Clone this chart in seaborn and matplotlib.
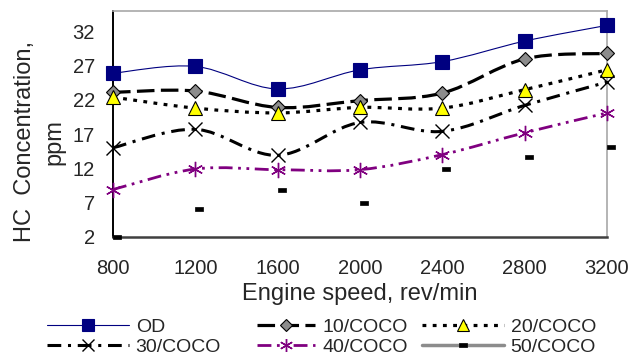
import numpy as np
import pandas as pd
import matplotlib
matplotlib.use("Agg")
import matplotlib.pyplot as plt
from matplotlib.path import Path
from matplotlib.patches import PathPatch
from matplotlib.lines import Line2D
from matplotlib.ticker import MultipleLocator
import matplotlib.transforms as mtransforms
import seaborn as sns

# Engine speed (rev/min) and HC concentration (ppm) per fuel blend
speed = [800, 1200, 1600, 2000, 2400, 2800, 3200]
hc_od = [25.9, 26.9, 23.6, 26.4, 27.6, 30.6, 32.9]
hc_10 = [23.1, 23.3, 20.9, 21.9, 23.0, 28.0, 28.8]
hc_20 = [22.4, 20.8, 20.1, 20.9, 20.8, 23.5, 26.4]
hc_30 = [15.0, 17.7, 13.9, 18.7, 17.4, 21.2, 24.6]
hc_40 = [8.9, 11.9, 11.8, 11.8, 14.0, 17.2, 20.1]
hc_50 = [2.0, 6.1, 8.9, 7.0, 11.9, 13.6, 15.1]

labels = ["OD", "10/COCO", "20/COCO", "30/COCO", "40/COCO", "50/COCO"]
x_ticks = [800, 1200, 1600, 2000, 2400, 2800, 3200]
y_ticks = [2, 7, 12, 17, 22, 27, 32]

sns.set_style("white")
plt.rcParams["font.family"] = ["Liberation Sans", "DejaVu Sans"]

NAVY = "#000080"
PURPLE = "#800080"

# rectangular "dash" marker
rect_marker = Path([(-1, -0.5), (1, -0.5), (1, 0.5), (-1, 0.5), (-1, -0.5)],
                   [Path.MOVETO, Path.LINETO, Path.LINETO, Path.LINETO, Path.CLOSEPOLY])
asterisk = (6, 2, 0)

styles = {
    "OD": dict(values=hc_od, color=NAVY, lw=0.8, dashes=None,
               marker="s", ms=9.5, mfc=NAVY, mec=NAVY, mew=0.8),
    "10/COCO": dict(values=hc_10, color="black", lw=2.3, dashes=(5.5, 2.0),
                    marker="D", ms=7.5, mfc="#8c8c8c", mec="black", mew=0.8),
    "20/COCO": dict(values=hc_20, color="black", lw=2.3, dashes=(1.2, 2.0),
                    marker="^", ms=10, mfc="#ffff00", mec="black", mew=0.8),
    "30/COCO": dict(values=hc_30, color="black", lw=2.2, dashes=(4.5, 2.2, 1.0, 2.2),
                    marker="x", ms=9.5, mfc="black", mec="black", mew=1.0),
    "40/COCO": dict(values=hc_40, color=PURPLE, lw=2.0, dashes=(5.0, 2.0, 1.0, 2.0, 1.0, 2.0),
                    marker=asterisk, ms=11, mfc=PURPLE, mec=PURPLE, mew=1.0),
    "50/COCO": dict(values=hc_50, color="#8c8c8c", lw=2.5, dashes=None,
                    marker=rect_marker, ms=6, mfc="black", mec="black", mew=0.5),
}


def smooth_path(xs, ys):
    """Cubic Bezier path through the points (Catmull-Rom style smoothing)."""
    p = np.column_stack([xs, ys]).astype(float)
    pad = np.vstack([p[0], p, p[-1]])
    verts = [p[0]]
    codes = [Path.MOVETO]
    for i in range(len(p) - 1):
        p0, p1, p2, p3 = pad[i], pad[i + 1], pad[i + 2], pad[i + 3]
        verts += [p1 + (p2 - p0) / 6.0, p2 - (p3 - p1) / 6.0, p2]
        codes += [Path.CURVE4] * 3
    return Path(verts, codes)


fig = plt.figure(figsize=(6.42, 3.6), dpi=100)
ax = fig.add_axes([0.176, 0.3425, 0.7695, 0.627])

handles = {}
for name in labels:
    st = styles[name]
    df = pd.DataFrame({"speed": speed, "hc": st["values"]})
    if name != "50/COCO":
        ls = "-" if st["dashes"] is None else (0, st["dashes"])
        patch = PathPatch(smooth_path(df["speed"], df["hc"]), fill=False,
                          edgecolor=st["color"], lw=st["lw"], linestyle=ls,
                          capstyle="butt", joinstyle="round", zorder=2)
        ax.add_patch(patch)
    n_before = len(ax.lines)
    sns.lineplot(data=df, x="speed", y="hc", ax=ax, linestyle="none",
                 marker=st["marker"], markersize=st["ms"],
                 markerfacecolor=st["mfc"], markeredgecolor=st["mec"],
                 markeredgewidth=st["mew"], color=st["color"], zorder=3)
    line = ax.lines[n_before]
    line.set_clip_on(False)
    if name == "50/COCO":
        line.set_transform(ax.transData + mtransforms.ScaledTranslation(4 / 100, 0, fig.dpi_scale_trans))
    ls = "-" if st["dashes"] is None else (0, st["dashes"])
    handles[name] = Line2D([], [], color=st["color"], lw=st["lw"], linestyle=ls,
                           dash_capstyle="butt", marker=st["marker"],
                           markersize=st["ms"] * 0.85, markerfacecolor=st["mfc"],
                           markeredgecolor=st["mec"], markeredgewidth=st["mew"])

ax.set_xlim(800, 3200)
ax.set_ylim(2, 35)
ax.set_xticks(x_ticks)
ax.set_yticks(y_ticks)
ax.xaxis.set_minor_locator(MultipleLocator(80))
ax.yaxis.set_minor_locator(MultipleLocator(2.5))
ax.tick_params(which="both", direction="in", color="#404040", labelsize=14.5)
ax.tick_params(which="major", length=5, width=1)
ax.tick_params(which="minor", length=3.5, width=1)
ax.tick_params(axis="y", which="major", pad=13)
ax.tick_params(axis="x", which="major", pad=16)

ax.spines["left"].set_color("black")
ax.spines["left"].set_linewidth(1.4)
ax.spines["bottom"].set_color("#404040")
ax.spines["bottom"].set_linewidth(1.8)
for s in ("top", "right"):
    ax.spines[s].set_color("#a8a8a8")
    ax.spines[s].set_linewidth(1.2)

ax.set_xlabel("Engine speed, rev/min", fontsize=17, labelpad=4)
ax.set_ylabel("HC  Concentration,\nppm", fontsize=17, linespacing=1.4)
ax.yaxis.set_label_coords(-0.097, 0.42)

# legend in three columns of two rows
columns = [
    (["OD", "30/COCO"], 47, 4.2),
    (["10/COCO", "40/COCO"], 257, 3.0),
    (["20/COCO", "50/COCO"], 422, 4.2),
]
for names, x0, hl in columns:
    fig.legend([handles[n] for n in names], names, loc="center left",
               bbox_to_anchor=(x0 / 642, 1 - 337 / 360), fontsize=14,
               frameon=False, borderpad=0, borderaxespad=0,
               handlelength=hl, handletextpad=0.36, labelspacing=0.1)

fig.savefig("out.png", dpi=100)
